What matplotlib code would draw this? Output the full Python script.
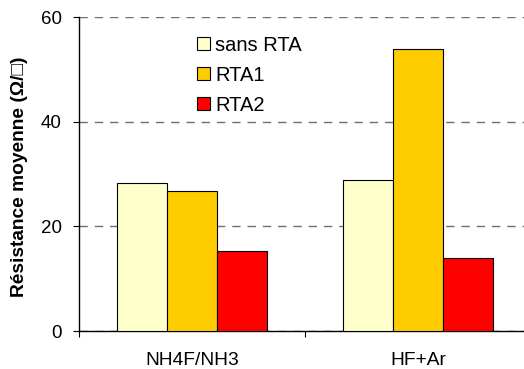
import matplotlib
matplotlib.use("Agg")
import matplotlib.pyplot as plt
import numpy as np

plt.rcParams.update({
    "font.family": ["Liberation Sans", "DejaVu Sans"],
    "font.size": 13.5,
    "lines.scale_dashes": False,
})

# ── Data ────────────────────────────────────────────────────────────────────
categories = ["NH4F/NH3", "HF+Ar"]
series_names = ["sans RTA", "RTA1", "RTA2"]
sans_rta = [28.3, 28.9]
rta1 = [26.7, 53.8]
rta2 = [15.2, 14.0]
colors = ["#FFFFCC", "#FFCC00", "#FF0000"]
yticks = [0, 20, 40, 60]

W, H = 524, 369
fig = plt.figure(figsize=(W / 100, H / 100), dpi=100)
ax = fig.add_axes([79 / W, 1 - 331 / H, 452 / W, 314 / H])

x = np.arange(len(categories)) + 0.5
bw = 0.2226
for i, (vals, name) in enumerate(zip([sans_rta, rta1, rta2], series_names)):
    ax.bar(x + (i - 1) * bw, vals, bw, color=colors[i], edgecolor="black",
           linewidth=0.8, label=name, zorder=3)

ax.set_xlim(0, len(categories))
ax.set_ylim(0, 60)
ax.set_yticks(yticks)
ax.set_xticks(x)
ax.set_xticklabels(categories, fontsize=13.8)
ax.set_xticks(np.arange(len(categories) + 1), minor=True)
ax.tick_params(axis="x", which="major", length=0, pad=15)
ax.tick_params(axis="x", which="minor", length=4.3, width=0.8, direction="out")
ax.tick_params(axis="y", length=4.3, width=0.8, direction="out", pad=8)

ax.yaxis.grid(True, color="#6f6f6f", linewidth=1.0, linestyle=(0, (6, 5)), zorder=0)
ax.set_axisbelow(True)
for s in ["top", "right"]:
    ax.spines[s].set_visible(False)
for s in ["left", "bottom"]:
    ax.spines[s].set_linewidth(1.0)

ax.set_ylabel("Résistance moyenne (Ω/□)", fontweight="bold", fontsize=13.8)
ax.yaxis.set_label_coords(-0.113, 0.49)

ax.legend(loc="upper left", bbox_to_anchor=(0.261, 0.941), frameon=False,
          fontsize=14.5, borderpad=0, handlelength=0.65, handleheight=0.65,
          handletextpad=0.26, labelspacing=0.55, borderaxespad=0)

fig.savefig("out.png", dpi=100)
